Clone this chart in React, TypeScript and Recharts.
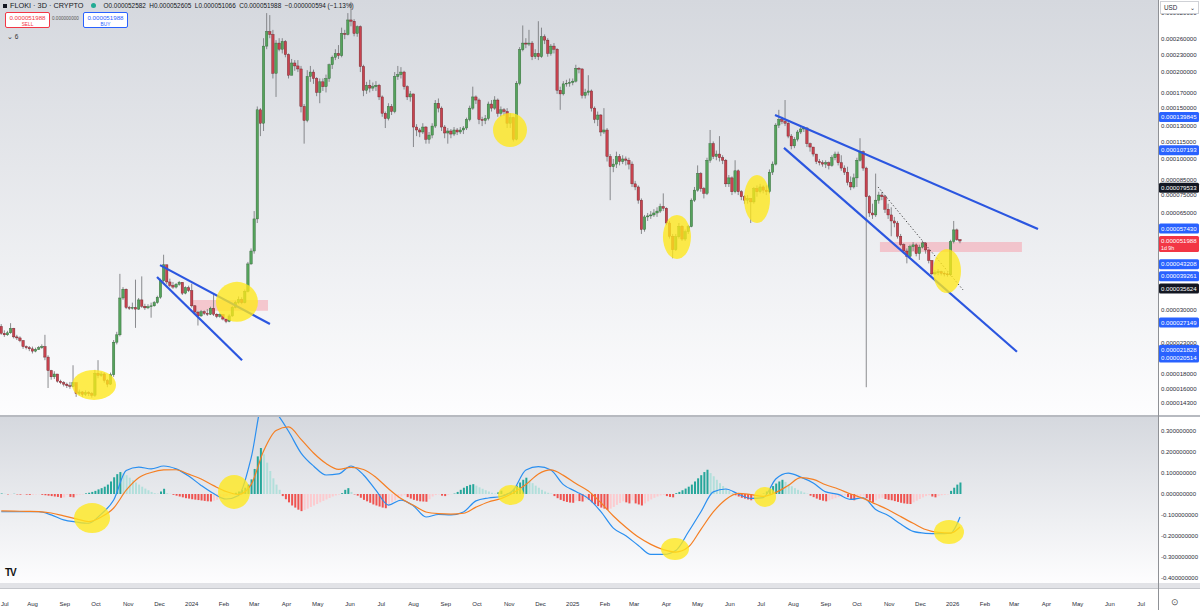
import React from "react";
import {
  Bar,
  Cell,
  ComposedChart,
  Line,
  ReferenceArea,
  ReferenceDot,
  ReferenceLine,
  XAxis,
  YAxis,
} from "recharts";

// prices are kept in units of 0.000001
const FIRST_OPEN = 26.3;
const FIRST_DAY = -30; // days after 1 Aug 2023
const CANDLE_DAYS = 3;

const closes = [
  24.9, 24.6, 25.0, 25.9, 24.2, 24.0, 23.5, 22.4, 22.2, 22.0,
  21.6, 21.9, 22.2, 22.4, 20.6, 18.5, 17.6, 18.0, 17.0, 16.8,
  16.6, 16.4, 16.3, 16.8, 15.4, 15.6, 15.3, 15.5, 15.4, 15.2,
  18.1, 17.8, 18.0, 17.1, 16.6, 17.9, 23.2, 24.6, 33.0, 35.4,
  30.6, 30.5, 30.6, 30.2, 32.5, 30.9, 30.5, 30.8, 31.0, 31.8,
  33.2, 37.9, 43.0, 37.5, 36.5, 36.0, 36.8, 37.4, 34.3, 35.8,
  35.0, 31.0, 29.5, 28.6, 29.6, 29.2, 29.0, 30.4, 29.0, 28.5,
  28.9, 27.9, 27.4, 28.6, 30.6, 31.8, 32.6, 31.8, 34.8, 43.3,
  48.0,
  62, 148, 133, 246, 276, 270, 198, 252, 240, 255,
  230, 195, 215, 210, 205, 152, 136, 193, 200, 190,
  170, 185, 178, 190, 212, 225, 232, 228, 272, 270,
  303, 300, 272, 287, 209, 173, 180, 176, 178, 180,
  164, 144, 138, 152, 146, 193, 196, 200, 178, 164,
  168, 129, 126, 124, 129, 117, 121, 130, 156, 150,
  129, 123, 125, 122, 126, 124, 126, 128, 137, 150,
  164, 160, 137, 136, 138, 155, 150, 160, 144, 148,
  146, 133, 139, 117, 183, 239, 252, 250, 252, 226,
  232, 226, 265, 258, 232, 246, 240, 173,
  168, 182, 183, 184, 186, 206, 205, 166, 170, 172,
  150, 137, 142, 124, 126, 102, 94, 96, 102, 98,
  100, 99, 96, 82, 80, 72, 57, 63, 63.5, 64,
  65, 66, 68.4, 67.5, 60, 54, 48.5, 53.8, 58.5, 52.8,
  56, 58.3, 72, 78, 89, 79, 76, 99, 113, 102,
  104, 101, 99, 82, 86, 77, 91, 77, 74, 72,
  73, 71, 79, 77, 80, 78, 77, 90, 96, 131,
  137, 135, 133, 120, 111, 117, 124, 127, 128, 113,
  110, 104, 98, 97, 96, 97, 95, 101, 104,
  97, 93, 90, 83, 80, 86, 99, 106, 93, 74,
  65, 64, 72, 75, 74, 67, 64, 61, 60, 54,
  50.5, 48, 46, 49.7, 50.4, 47, 49.5, 51.2, 48.4, 44.5,
  40, 40.4, 40.7, 40.2, 40.0, 39.7, 51.8, 56.8, 52.582, 51.988,
];

const highs = [
  26.8, 25.5, 25.4, 27.0, 26.0, 24.6, 24.3, 23.6, 22.6, 22.5,
  22.4, 22.2, 22.5, 22.8, 24.6, 20.9, 18.6, 18.4, 17.8, 17.2,
  17.0, 16.8, 16.9, 19.3, 16.0, 15.9, 15.7, 15.8, 15.7, 15.6,
  18.6, 20.1, 18.3, 18.2, 17.3, 18.2, 23.6, 25.2, 40.0, 36.0,
  35.6, 31.0, 31.8, 38.2, 33.0, 39.2, 31.5, 31.4, 31.8, 32.2,
  33.6, 38.5, 46.6, 42.5, 38.5, 37.5, 37.2, 37.8, 37.4, 36.2,
  36.4, 37.0, 31.2, 29.8, 30.0, 29.9, 30.2, 30.8, 34.3, 29.2,
  29.2, 28.8, 28.0, 29.0, 31.0, 32.3, 33.4, 33.2, 35.3, 44.0,
  49.0,
  66, 152, 150, 262, 320, 315, 280, 258, 262, 262,
  258, 232, 222, 220, 220, 210, 155, 203, 210, 204,
  192, 190, 190, 196, 214, 228, 240, 248, 285, 280,
  320, 350, 305, 290, 290, 212, 185, 188, 184, 186,
  182, 166, 146, 156, 155, 200, 210, 208, 202, 180,
  172, 168, 132, 128, 133, 130, 124, 133, 160, 162,
  152, 131, 128, 127, 129, 128, 129, 130, 139, 153,
  178, 166, 162, 140, 142, 158, 160, 165, 162, 152,
  150, 150, 144, 140, 186, 244, 290, 262, 280, 256,
  240, 300, 285, 270, 262, 250, 252, 242,
  178, 186, 188, 190, 190, 212, 208, 206, 175, 195,
  174, 152, 146, 143, 150, 128, 104, 100, 106, 104,
  103, 102, 101, 98, 84, 81, 73, 64, 65, 66,
  67, 68, 70, 76, 68, 61, 55, 55, 60, 59,
  57, 59, 73, 80, 95, 90, 80, 101, 126, 115,
  107, 120, 103, 100, 88, 87, 99, 92, 78, 75,
  75, 73, 80, 81, 82, 81, 81, 92, 98, 133,
  148, 140, 160, 135, 122, 119, 126, 129, 130, 129,
  114, 110, 104, 100, 99, 99, 98, 103, 106,
  106, 103, 95, 94, 87, 89, 101, 118, 107, 94,
  75, 70, 89, 77, 77, 75, 70, 68, 63, 61,
  55, 51, 49, 50.5, 51.5, 51, 50.5, 52, 51.5, 48.6,
  44.6, 41.2, 41.5, 41, 40.8, 40.5, 52.5, 61, 57.4, 52.605,
];

const lows = [
  24.6, 24.2, 24.4, 24.8, 23.9, 23.6, 23.2, 22.0, 21.9, 21.6,
  21.2, 21.4, 21.8, 22.0, 20.1, 16.1, 17.2, 17.3, 16.8, 16.6,
  16.3, 16.1, 16.0, 16.2, 15.0, 15.2, 15.0, 15.1, 15.1, 14.9,
  15.0, 17.4, 17.6, 16.8, 16.2, 16.5, 17.6, 22.8, 24.3, 32.5,
  30.2, 30.0, 30.1, 26.0, 30.0, 30.5, 30.0, 30.2, 28.2, 30.8,
  31.5, 32.8, 37.5, 36.8, 36.0, 35.5, 35.6, 36.4, 33.8, 34.0,
  34.6, 30.6, 29.1, 26.5, 28.4, 28.8, 28.6, 28.8, 28.6, 28.1,
  28.2, 27.6, 27.0, 27.2, 28.4, 30.4, 31.5, 31.4, 31.6, 34.5,
  43.0,
  47, 60, 120, 125, 240, 262, 190, 164, 236, 232,
  225, 190, 195, 202, 200, 145, 113, 134, 185, 182,
  165, 156, 172, 170, 185, 205, 220, 222, 225, 260,
  268, 288, 266, 265, 200, 165, 168, 170, 172, 172,
  160, 140, 128, 136, 142, 144, 188, 190, 174, 160,
  158, 110, 120, 119, 122, 113, 113, 118, 128, 145,
  125, 118, 113, 118, 120, 121, 122, 122, 126, 135,
  148, 155, 132, 130, 132, 136, 146, 148, 140, 140,
  141, 128, 128, 115, 116, 180, 236, 242, 246, 220,
  222, 220, 224, 250, 226, 228, 232, 168,
  148, 166, 178, 178, 180, 184, 198, 162, 162, 166,
  146, 133, 130, 120, 122, 98, 72, 90, 93, 95,
  96, 95, 92, 80, 78, 70, 55, 56, 61, 62,
  63, 63, 65, 66, 59, 53, 45.3, 48, 53, 52,
  52, 55, 58, 71, 77, 77, 73, 75, 97, 100,
  99, 98, 96, 80, 80, 75, 76, 75, 72, 70,
  70, 60, 70, 74, 76, 76, 75, 76, 88, 95,
  128, 132, 130, 118, 108, 109, 115, 122, 124, 110,
  106, 102, 96, 95, 94, 93, 92, 94, 99,
  95, 91, 88, 81, 78, 79, 80, 98, 91, 16.2,
  63, 62, 63, 70, 72, 65, 62, 54, 58, 53,
  50, 47, 43.5, 45.5, 48, 46, 44.7, 49, 47, 43.5,
  39.5, 39.6, 39.6, 39.5, 39.2, 39.1, 39.3, 51, 52, 51.066,
];

// MACD histogram, one value per candle
const histogram = [
  0.002, 0.001, -0.002, -0.001, 0.001, -0.002, -0.003, -0.002, -0.003, -0.004, -0.003, -0.002, -0.001, -0.004,
  -0.006, -0.008, -0.01, -0.012, -0.014, -0.018, -0.016, -0.004, -0.014, -0.016, -0.006,
  -0.003, -0.002, 0.003, 0.006,
  0.01, 0.015, 0.022, 0.028, 0.035, 0.045, 0.06, 0.08, 0.095, 0.105,
  0.1, 0.09, 0.078, 0.066, 0.055, 0.045, 0.035, 0.026, 0.018, 0.01, 0.004,
  0.002, 0.012, 0.025, 0.004, 0.001,
  -0.004, -0.008, -0.012, -0.016, -0.02, -0.022, -0.025, -0.027, -0.029, -0.031, -0.033, -0.035, -0.036,
  -0.032, -0.028, -0.022, -0.016, -0.01, -0.005, -0.002,
  0.006, 0.012, 0.02, 0.03, 0.045, 0.07, 0.12, 0.18, 0.22,
  0.19, 0.15, 0.11, 0.075, 0.045, 0.02,
  -0.01, -0.025, -0.04, -0.055, -0.065, -0.075, -0.082,
  -0.076, -0.07, -0.062, -0.055, -0.048, -0.04, -0.033, -0.026, -0.019, -0.012, -0.007, -0.003,
  0.004, 0.02, 0.028, 0.01, -0.002,
  -0.008, -0.018, -0.028, -0.035, -0.042, -0.05, -0.055, -0.06, -0.065, -0.068,
  -0.055, -0.04, -0.03, -0.02, -0.012, -0.006,
  -0.015, -0.022, -0.028, -0.032, -0.035, -0.036, -0.037,
  -0.025, -0.012, -0.005, -0.002,
  -0.008, -0.01, -0.004, -0.001,
  0.002, 0.01,
  0.02, 0.03, 0.038, 0.044, 0.047,
  0.04, 0.032, 0.025, 0.018, 0.012, 0.006,
  0.002, 0.008, 0.016, -0.003, 0.004, 0.01,
  0.025, 0.04, 0.055, 0.068, 0.078,
  0.065, 0.052, 0.04, 0.03, 0.02, 0.012, 0.006, 0.002,
  -0.01, -0.02, -0.028, -0.034, -0.038, -0.041, -0.042,
  -0.032, -0.034, -0.036, -0.026, -0.028,
  -0.04, -0.05, -0.058, -0.065, -0.07, -0.076,
  -0.07, -0.062, -0.052, -0.043, -0.035,
  -0.04, -0.045,
  -0.03,
  -0.045, -0.05, -0.055,
  -0.045, -0.035, -0.026, -0.018, -0.012, -0.007, -0.004,
  -0.01, -0.014, -0.016,
  0.004, 0.01, 0.018, 0.026, 0.035, 0.045,
  0.06, 0.075, 0.09, 0.105, 0.116,
  0.1, 0.085, 0.068, 0.052, 0.038, 0.025, 0.014, 0.005,
  -0.006, -0.012, -0.018, -0.022, -0.026, -0.03, -0.028,
  -0.015, -0.005, 0.002,
  0.012, 0.025, 0.038, 0.05, 0.06, 0.068,
  0.058, 0.047, 0.037, 0.028, 0.02, 0.013, 0.007, 0.002,
  -0.008, -0.015, -0.022, -0.028, -0.032, -0.035,
  -0.03, -0.025, -0.02, -0.015, -0.01, -0.006,
  -0.015, -0.025, -0.03,
  -0.02, -0.012, -0.008,
  -0.02, -0.032, -0.04,
  -0.03, -0.022, -0.018,
  -0.024, -0.028, -0.03,
  -0.034, -0.038, -0.042, -0.045, -0.047, -0.048,
  -0.04, -0.032, -0.024, -0.016, -0.01, -0.006,
  -0.012, -0.016,
  -0.01, -0.006, -0.004, -0.002,
  0.015, 0.03, 0.045, 0.055,
];

// MACD and signal read every 4th candle (the last one on the final candle)
const macdLine = [
  -0.085, -0.085, -0.085, -0.085, -0.1, -0.124, -0.134, -0.14, -0.096, -0.029,
  0.112, 0.129, 0.12, 0.134, 0.12, 0.086, 0.041, 0.002, -0.024, -0.007,
  0.172, 0.45, 0.39, 0.3, 0.196, 0.134, 0.091, 0.096, 0.134, 0.091,
  0.017, -0.053, -0.029, -0.057, -0.11, -0.098, -0.1, -0.086, -0.033, -0.019,
  -0.012, 0.019, 0.115, 0.131, 0.115, 0.045, 0.012, -0.022, -0.084, -0.163,
  -0.2, -0.246, -0.289, -0.289, -0.27, -0.182, -0.086, 0.01, 0.024, 0.0,
  -0.021, -0.017, 0.072, 0.1, 0.081, 0.053, 0.01, -0.002, -0.026, -0.018,
  -0.074, -0.103, -0.144, -0.179, -0.188, -0.19, -0.187, -0.11,
];
const signalLine = [
  -0.081, -0.082, -0.083, -0.084, -0.091, -0.105, -0.119, -0.132, -0.11, -0.067,
  0.018, 0.078, 0.103, 0.115, 0.116, 0.095, 0.072, 0.04, 0.012, -0.002,
  0.045, 0.206, 0.304, 0.321, 0.261, 0.196, 0.146, 0.118, 0.127, 0.117,
  0.079, 0.025, -0.022, -0.054, -0.086, -0.094, -0.096, -0.092, -0.063, -0.038,
  -0.022, 0.006, 0.045, 0.096, 0.115, 0.089, 0.05, 0.014, -0.042, -0.105,
  -0.159, -0.206, -0.241, -0.266, -0.278, -0.254, -0.17, -0.086, -0.026, 0.003,
  -0.003, -0.011, 0.007, 0.041, 0.078, 0.07, 0.044, 0.024, 0.0, -0.021,
  -0.048, -0.075, -0.108, -0.14, -0.17, -0.184, -0.187, -0.158,
];

const priceTicks = [320, 260, 230, 200, 170, 150, 130, 115, 100, 85, 75, 65, 30, 23, 18, 16, 14.3];
const macdTicks = [0.3, 0.2, 0.1, 0, -0.1, -0.2, -0.3, -0.4];
const monthLabels = [
  "Jul", "Aug", "Sep", "Oct", "Nov", "Dec",
  "2024", "Feb", "Mar", "Apr", "May", "Jun", "Jul", "Aug", "Sep", "Oct", "Nov", "Dec",
  "2025", "Feb", "Mar", "Apr", "May", "Jun", "Jul", "Aug", "Sep", "Oct", "Nov", "Dec",
  "2026", "Feb", "Mar", "Apr", "May", "Jun", "Jul",
];

// price scale tags on the right axis
const tagValues = [139.845, 107.193, 79.533, 57.43, 51.988, 43.208, 39.261, 35.624, 27.149, 21.828, 20.514];
const tagKinds = ["blue", "blue", "black", "blue", "last", "blue", "blue", "black", "blue", "blue", "blue"];

// drawings: [day1, price1, day2, price2]
const trendLines = [
  [122.5, 42.9, 228.1, 26.8],
  [119.6, 39.0, 201.3, 20.1],
  [713.3, 142.0, 965.9, 57.2],
  [721.9, 109.2, 945.7, 21.5],
];
const dottedLine = [812.2, 80.0, 893.9, 35.2];
const boxes = [
  [154.2, 226.2, 29.8, 32.5],
  [814.1, 950.5, 47.6, 51.6],
];
const priceMarks = [
  [59.1, 16.5, 22, 15],
  [196.4, 32.0, 21, 20],
  [458.7, 126, 17, 17],
  [619.1, 53.7, 14, 22],
  [696, 72.7, 13, 24],
  [878.5, 40.9, 14, 22],
];
const macdMarks = [
  [57.2, -0.115, 18, 15],
  [193.6, 0.01, 16, 17],
  [459.7, -0.005, 13, 10],
  [617.2, -0.263, 14, 11],
  [703.7, -0.014, 11, 10],
  [880.4, -0.182, 15, 12],
];

const X_DOMAIN: [number, number] = [-31.22, 1081.2];
const PRICE_DOMAIN: [number, number] = [12.98, 355.3];
const MACD_DOMAIN: [number, number] = [-0.4258, 0.3684];

const DAY_MS = 86400000;
const monthTickDays = monthLabels.map(
  (_, j) => (Date.UTC(2023, 6 + j, 1) - Date.UTC(2023, 7, 1)) / DAY_MS
);

const candleData = closes.map((close, i) => {
  const open = i === 0 ? FIRST_OPEN : closes[i - 1];
  const high = Math.max(highs[i], open, close);
  const low = Math.min(lows[i], open, close);
  return { day: FIRST_DAY + CANDLE_DAYS * i, open, close, high, low, range: [low, high] };
});

const macdData = histogram.map((hist, i) => {
  let k: number | null = i % 4 === 0 ? i / 4 : null;
  if (i === histogram.length - 1) k = macdLine.length - 1;
  return {
    day: FIRST_DAY + CANDLE_DAYS * i,
    hist,
    macd: k !== null ? macdLine[k] : null,
    signal: k !== null ? signalLine[k] : null,
  };
});

const histColor = (i: number) => {
  const v = histogram[i];
  const prev = i > 0 ? histogram[i - 1] : 0;
  if (v >= 0) return v >= prev ? "#26a69a" : "#b2dfdb";
  return v < prev ? "#ef5350" : "#fccbcf";
};

const TEXT = "#2a2e39";
const FONT = "'Liberation Sans', Arial, sans-serif";

function Candle(props: any) {
  const { x, y, width, height, payload } = props;
  if (x == null || !payload) return null;
  const top = Math.min(y, y + height);
  const h = Math.abs(height);
  const cx = x + width / 2;
  const lh = Math.log(payload.high);
  const ll = Math.log(payload.low);
  const span = lh - ll || 1;
  const py = (p: number) => top + (h * (lh - Math.log(p))) / span;
  const yo = py(payload.open);
  const yc = py(payload.close);
  const up = payload.close >= payload.open;
  const bt = Math.min(yo, yc);
  const bh = Math.max(Math.abs(yo - yc), 0.8);
  return (
    <g>
      <line x1={cx} x2={cx} y1={top} y2={top + h} stroke="#6f7074" strokeWidth={0.8} />
      <rect
        x={cx - 1.2}
        y={bt}
        width={2.4}
        height={bh}
        fill={up ? "#55a35c" : "#c8434f"}
        stroke={up ? "#2e6233" : "#6a2128"}
        strokeWidth={0.4}
      />
    </g>
  );
}

function PriceTick(props: any) {
  const { x, y, payload } = props;
  return (
    <text x={x + 3} y={y + 2.2} fontSize={6.1} fill={TEXT} fontFamily={FONT}>
      {(payload.value * 1e-6).toFixed(9)}
    </text>
  );
}

function MacdTick(props: any) {
  const { x, y, payload } = props;
  return (
    <text x={x + 3} y={y + 2.2} fontSize={6} fill={TEXT} fontFamily={FONT}>
      {Number(payload.value).toFixed(9)}
    </text>
  );
}

function TimeTick(props: any) {
  const { x, y, index } = props;
  // a label that would run past the left edge is pinned to it
  const nearEdge = x < 6;
  return (
    <text
      x={nearEdge ? 1 : x}
      y={y + 23}
      fontSize={6}
      fill={TEXT}
      textAnchor={nearEdge ? "start" : "middle"}
      fontFamily={FONT}
    >
      {monthLabels[index]}
    </text>
  );
}

function PriceTag(props: any) {
  const { viewBox, value, kind } = props;
  if (!viewBox) return null;
  const x = viewBox.x + viewBox.width + 1;
  const y = viewBox.y;
  const fill = kind === "black" ? "#131722" : kind === "last" ? "#f23645" : "#2962ff";
  return (
    <g>
      <rect x={x} y={y - 5} width={40} height={kind === "last" ? 16 : 10} rx={1.5} fill={fill} />
      <text x={x + 2} y={y + 2.2} fontSize={6.1} fill="#fff" fontFamily={FONT}>
        {(value * 1e-6).toFixed(9)}
      </text>
      {kind === "last" && (
        <text x={x + 2} y={y + 9} fontSize={5.3} fill="#fff" fontFamily={FONT}>
          1d 9h
        </text>
      )}
    </g>
  );
}

const ellipse = (rx: number, ry: number) => (p: any) =>
  <ellipse cx={p.cx} cy={p.cy} rx={rx} ry={ry} fill="#ffe81a" fillOpacity={0.78} />;

const paneBg = "linear-gradient(#d5d8de, #fdfdfe)";

export default function App() {
  return (
    <div
      style={{
        position: "fixed",
        left: 0,
        top: 0,
        width: 1200,
        height: 610,
        background: "#ffffff",
        overflow: "hidden",
        fontFamily: FONT,
        color: "#131722",
      }}
    >
      <div style={{ position: "absolute", left: 0, top: 0, width: 1158, height: 415, background: paneBg }} />
      <div style={{ position: "absolute", left: 0, top: 415, width: 1200, height: 2, background: "#b7bac0" }} />
      <div style={{ position: "absolute", left: 0, top: 417, width: 1158, height: 166, background: paneBg }} />
      <div style={{ position: "absolute", left: 0, top: 583, width: 1200, height: 5, background: "#e2e3e7" }} />
      <div style={{ position: "absolute", left: 0, top: 588, width: 1200, height: 1, background: "#c5c7cc" }} />
      <div style={{ position: "absolute", left: 1158, top: 0, width: 1, height: 610, background: "#8f9196" }} />

      <div style={{ position: "absolute", left: 0, top: 0 }}>
        <ComposedChart width={1200} height={415} data={candleData} margin={{ top: 0, right: 0, bottom: 0, left: 0 }}>
          <XAxis dataKey="day" type="number" domain={X_DOMAIN} allowDataOverflow hide />
          <YAxis
            orientation="right"
            scale="log"
            domain={PRICE_DOMAIN}
            allowDataOverflow
            ticks={priceTicks}
            width={42}
            tick={<PriceTick />}
            tickSize={0}
            tickMargin={0}
            axisLine={false}
            tickLine={false}
            interval={0}
          />
          {priceMarks.map(([d, p, rx, ry], i) => (
            <ReferenceDot key={"pm" + i} x={d} y={p} r={1} shape={ellipse(rx, ry)} />
          ))}
          <Bar dataKey="range" barSize={3} shape={<Candle />} isAnimationActive={false} />
          {boxes.map(([x1, x2, y1, y2], i) => (
            <ReferenceArea key={"bx" + i} x1={x1} x2={x2} y1={y1} y2={y2} fill="#f6a3ad" fillOpacity={0.55} stroke="none" />
          ))}
          {trendLines.map(([d1, p1, d2, p2], i) => (
            <ReferenceLine
              key={"tl" + i}
              segment={[{ x: d1, y: p1 }, { x: d2, y: p2 }]}
              stroke="#2b56e0"
              strokeWidth={2.2}
              ifOverflow="visible"
            />
          ))}
          <ReferenceLine
            segment={[{ x: dottedLine[0], y: dottedLine[1] }, { x: dottedLine[2], y: dottedLine[3] }]}
            stroke="#3a3a3a"
            strokeWidth={1}
            strokeDasharray="1.2 2.2"
            ifOverflow="visible"
          />
          {tagValues.map((v, i) => (
            <ReferenceLine key={"tag" + i} y={v} stroke="none" label={<PriceTag value={v} kind={tagKinds[i]} />} />
          ))}
        </ComposedChart>
      </div>

      <div style={{ position: "absolute", left: 0, top: 417 }}>
        <ComposedChart width={1200} height={193} data={macdData} margin={{ top: 0, right: 0, bottom: 0, left: 0 }}>
          <XAxis
            dataKey="day"
            type="number"
            domain={X_DOMAIN}
            allowDataOverflow
            ticks={monthTickDays}
            interval={0}
            tick={<TimeTick />}
            tickSize={0}
            tickMargin={0}
            tickLine={false}
            axisLine={false}
            height={27}
          />
          <YAxis
            orientation="right"
            domain={MACD_DOMAIN}
            allowDataOverflow
            ticks={macdTicks}
            width={42}
            tick={<MacdTick />}
            tickSize={0}
            tickMargin={0}
            axisLine={false}
            tickLine={false}
            interval={0}
          />
          {macdMarks.map(([d, v, rx, ry], i) => (
            <ReferenceDot key={"mm" + i} x={d} y={v} r={1} shape={ellipse(rx, ry)} />
          ))}
          <Bar dataKey="hist" barSize={2} isAnimationActive={false}>
            {macdData.map((_, i) => (
              <Cell key={i} fill={histColor(i)} />
            ))}
          </Bar>
          <Line dataKey="macd" type="monotone" connectNulls dot={false} stroke="#2a8ff0" strokeWidth={1.2} isAnimationActive={false} />
          <Line dataKey="signal" type="monotone" connectNulls dot={false} stroke="#f57f23" strokeWidth={1.2} isAnimationActive={false} />
        </ComposedChart>
      </div>

      {/* header */}
      <div style={{ position: "absolute", left: 3, top: 1, height: 9, display: "flex", alignItems: "center", fontSize: 7.3, whiteSpace: "nowrap" }}>
        <span style={{ display: "inline-block", width: 4, height: 4, background: "#131722", marginRight: 3 }} />
        <span>FLOKI · 3D · CRYPTO</span>
        <span style={{ display: "inline-block", width: 5, height: 5, borderRadius: "50%", background: "#22ab94", margin: "0 8px 0 7px" }} />
        <span style={{ fontSize: 6.4 }}>
          O0.000052582&nbsp; H0.000052605&nbsp; L0.000051066&nbsp; C0.000051988&nbsp; −0.000000594 (−1.13%)
        </span>
      </div>
      <div style={{ position: "absolute", left: 5, top: 12, width: 43, height: 14, border: "1px solid #f23645", borderRadius: 2, background: "#fff", color: "#f23645", textAlign: "center", lineHeight: "7px", fontSize: 6.2 }}>
        <div style={{ marginTop: 1 }}>0.000051988</div>
        <div style={{ fontSize: 4.8 }}>SELL</div>
      </div>
      <div style={{ position: "absolute", left: 52, top: 16, fontSize: 4.6, color: "#555" }}>0.000000000</div>
      <div style={{ position: "absolute", left: 83, top: 12, width: 43, height: 14, border: "1px solid #2962ff", borderRadius: 2, background: "#fff", color: "#2962ff", textAlign: "center", lineHeight: "7px", fontSize: 6.2 }}>
        <div style={{ marginTop: 1 }}>0.000051988</div>
        <div style={{ fontSize: 4.8 }}>BUY</div>
      </div>
      <div style={{ position: "absolute", left: 7, top: 33, fontSize: 6.5, color: "#333" }}>⌄ 6</div>

      {/* axis extras */}
      <div style={{ position: "absolute", left: 1160, top: 1, width: 37, height: 11, border: "1px solid #cfd1d6", background: "#fff", fontSize: 6.3, lineHeight: "11px", color: TEXT }}>
        <span style={{ marginLeft: 3 }}>USD</span>
        <span style={{ position: "absolute", right: 3, top: 0 }}>⌄</span>
      </div>
      <div style={{ position: "absolute", left: 5, top: 567, fontSize: 10, fontWeight: 900, letterSpacing: -1, color: "#111" }}>TV</div>
      <div style={{ position: "absolute", left: 1171, top: 597, fontSize: 9, color: "#555" }}>⊙</div>
    </div>
  );
}
